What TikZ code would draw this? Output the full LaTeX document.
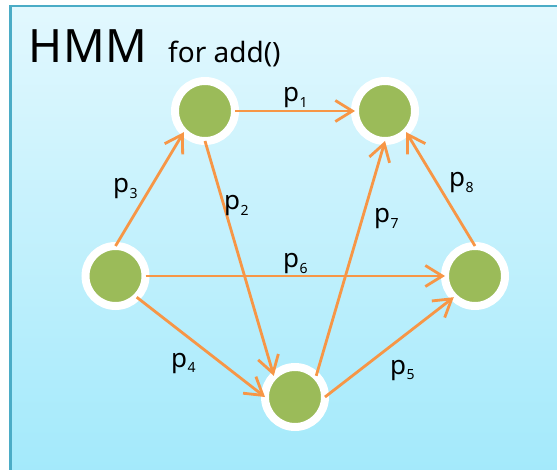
\documentclass[tikz,border=0pt]{standalone}
\usepackage{fontspec}
\setmainfont{Noto Sans}
\newfontfamily\titlefont[LetterSpace=2]{Noto Sans}
\usetikzlibrary{arrows.meta}
\definecolor{orng}{RGB}{247,150,70}
\definecolor{grn}{RGB}{155,187,89}
\definecolor{frm}{RGB}{75,172,198}
\definecolor{bgtop}{RGB}{226,248,254}
\definecolor{bgbot}{RGB}{162,233,251}
\newcommand{\plab}[1]{p\hspace{0.5pt}\raisebox{-5.5pt}{\fontsize{14}{14}\selectfont #1}}
\begin{document}
\begin{tikzpicture}[x=1pt,y=-1pt,
  state/.style={circle, fill=grn, draw=white, line width=8pt, minimum size=60pt, inner sep=0pt, outer sep=0pt},
  conn/.style={draw=orng, line width=2.8pt, -{Straight Barb[length=17pt,width=21pt]}},
  lab/.style={anchor=base west, inner sep=0pt, font=\fontsize{26}{26}\selectfont}]
\useasboundingbox (0,0) rectangle (557,470);
\clip (0,0) rectangle (557,470);
\fill[white] (0,0) rectangle (557,470);
\shade[top color=bgtop,bottom color=bgbot] (10.5,6) rectangle (570,480);
\draw[frm,line width=2.5pt] (10.5,6) rectangle (570,480);
\node[anchor=base west, inner sep=0pt, font=\titlefont\fontsize{46}{46}\selectfont] (title) at (28,63) {HMM};
\node[anchor=base west, inner sep=0pt, font=\fontsize{28}{28}\selectfont] (subtitle) at (168,63) {for add()};
\node[state] (A) at (205,111) {};
\node[state] (B) at (385,111) {};
\node[state] (C) at (115.5,276) {};
\node[state] (D) at (475,276) {};
\node[state] (E) at (295,397) {};
\draw[conn] (A.east) -- (B.west);
\draw[conn] (C.north) -- (A.south west);
\draw[conn] (A.south) -- (E.north west);
\draw[conn] (E.north east) -- (B.south);
\draw[conn] (D.north) -- (B.south east);
\draw[conn] (C.east) -- (D.west);
\draw[conn] (C.south east) -- (E.west);
\draw[conn] (E.east) -- (D.south west);
\node[lab] (l1) at (283,102) {\plab{1}};
\node[lab] (l2) at (224,210) {\plab{2}};
\node[lab] (l3) at (113,193) {\plab{3}};
\node[lab] (l4) at (171,367) {\plab{4}};
\node[lab] (l5) at (390,374) {\plab{5}};
\node[lab] (l6) at (283,268) {\plab{6}};
\node[lab] (l7) at (374,223) {\plab{7}};
\node[lab] (l8) at (449,187) {\plab{8}};
\end{tikzpicture}
\end{document}
